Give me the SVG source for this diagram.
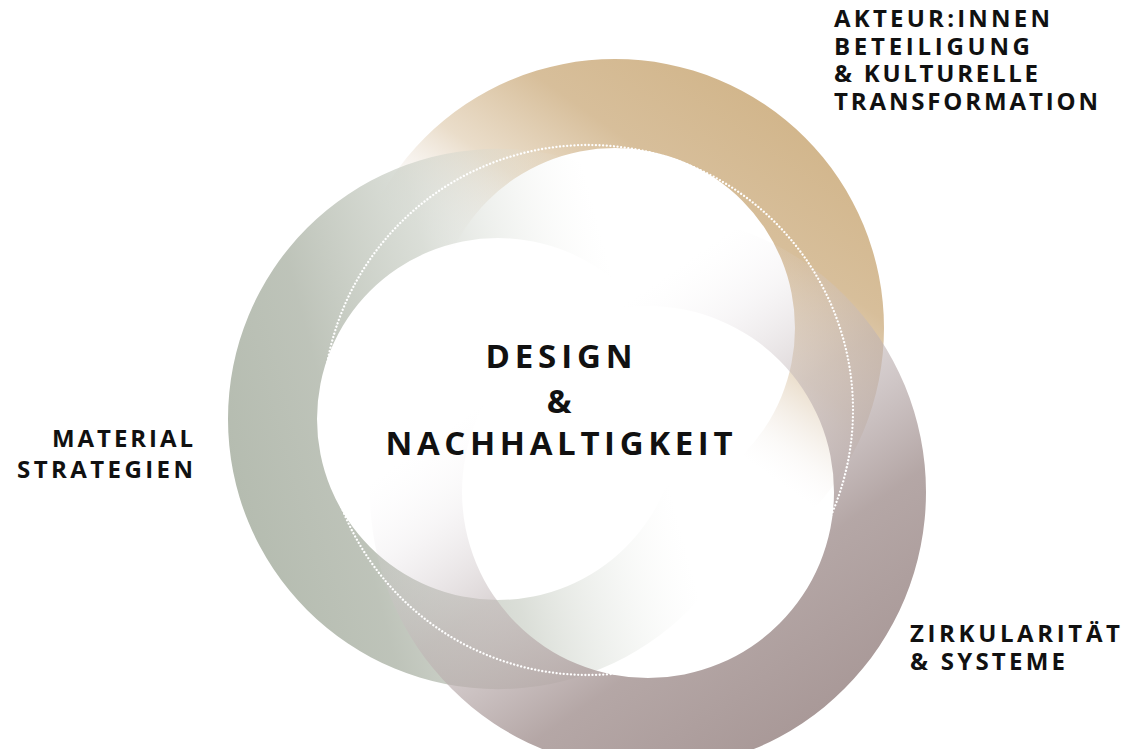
<svg xmlns="http://www.w3.org/2000/svg" width="1128" height="749" viewBox="0 0 1128 749">
<style>
.lbl{font-family:"Open Sans","Noto Sans","Liberation Sans",sans-serif;font-weight:700;font-size:24px;fill:#111111;}
.ctr{font-family:"Open Sans","Noto Sans","Liberation Sans",sans-serif;font-weight:700;font-size:33px;fill:#111111;}
.dots{fill:none;stroke:#ffffff;stroke-width:2.3;stroke-dasharray:0.01 3.6;stroke-linecap:round;}
</style>
<defs>
<linearGradient id="gTan" gradientUnits="userSpaceOnUse" x1="769" y1="108" x2="596" y2="354">
<stop offset="0" stop-color="#d2b68c" stop-opacity="1"/>
<stop offset="0.357" stop-color="#d5bb95" stop-opacity="0.95"/>
<stop offset="0.67" stop-color="#dcc6a6" stop-opacity="0.6"/>
<stop offset="0.893" stop-color="#e6dace" stop-opacity="0.15"/>
<stop offset="1" stop-color="#eee8e8" stop-opacity="0"/>
</linearGradient>
<linearGradient id="gGreen" gradientUnits="userSpaceOnUse" x1="237" y1="489" x2="641" y2="380">
<stop offset="0" stop-color="#b5bcb0" stop-opacity="1"/>
<stop offset="0.258" stop-color="#b8beb3" stop-opacity="0.92"/>
<stop offset="0.58" stop-color="#c2c8bd" stop-opacity="0.6"/>
<stop offset="0.806" stop-color="#d4d9d1" stop-opacity="0.27"/>
<stop offset="1" stop-color="#eceee9" stop-opacity="0"/>
</linearGradient>
<linearGradient id="gMauve" gradientUnits="userSpaceOnUse" x1="808" y1="720" x2="552" y2="355">
<stop offset="0" stop-color="#a99998" stop-opacity="1"/>
<stop offset="0.3125" stop-color="#ae9f9e" stop-opacity="0.92"/>
<stop offset="0.625" stop-color="#bfb3b4" stop-opacity="0.55"/>
<stop offset="0.844" stop-color="#d5cdd2" stop-opacity="0.18"/>
<stop offset="1" stop-color="#ece8ec" stop-opacity="0"/>
</linearGradient>
</defs>
<rect x="0" y="0" width="1128" height="749" fill="#ffffff"/>
<g id="ring-akteure">
<path fill="url(#gTan)" fill-rule="evenodd" d="M346,328 a269,269 0 1,0 538,0 a269,269 0 1,0 -538,0 Z M435,328 a180,180 0 1,0 360,0 a180,180 0 1,0 -360,0 Z"/>
</g>
<g id="ring-material">
<path fill="url(#gGreen)" fill-rule="evenodd" d="M228,419 a270,270 0 1,0 540,0 a270,270 0 1,0 -540,0 Z M317,419 a181,181 0 1,0 362,0 a181,181 0 1,0 -362,0 Z"/>
</g>
<g id="ring-zirkularitaet">
<path fill="url(#gMauve)" fill-rule="evenodd" d="M370,492 a278,278 0 1,0 556,0 a278,278 0 1,0 -556,0 Z M462,492 a186,186 0 1,0 372,0 a186,186 0 1,0 -372,0 Z"/>
</g>
<g id="dotted-circle">
<circle class="dots" cx="588" cy="410" r="265"/>
</g>
<g id="center">
<text class="ctr" text-anchor="middle"><tspan x="559" y="368" textLength="147" lengthAdjust="spacing">DESIGN</tspan><tspan x="559" y="413">&amp;</tspan><tspan x="559" y="455" textLength="347" lengthAdjust="spacing">NACHHALTIGKEIT</tspan></text>
</g>
<g id="label-akteure">
<text class="lbl"><tspan x="834" y="27" textLength="216" lengthAdjust="spacing">AKTEUR:INNEN</tspan><tspan x="834" y="54.5" textLength="196" lengthAdjust="spacing">BETEILIGUNG</tspan><tspan x="834" y="82" textLength="204" lengthAdjust="spacing">&amp; KULTURELLE</tspan><tspan x="834" y="109.5" textLength="264" lengthAdjust="spacing">TRANSFORMATION</tspan></text>
</g>
<g id="label-material">
<text class="lbl" text-anchor="end"><tspan x="193" y="447" textLength="141" lengthAdjust="spacing">MATERIAL</tspan><tspan x="193" y="478" textLength="176" lengthAdjust="spacing">STRATEGIEN</tspan></text>
</g>
<g id="label-zirkularitaet">
<text class="lbl"><tspan x="910" y="642" textLength="210" lengthAdjust="spacing">ZIRKULARITÄT</tspan><tspan x="910" y="670" textLength="155" lengthAdjust="spacing">&amp; SYSTEME</tspan></text>
</g>
</svg>
